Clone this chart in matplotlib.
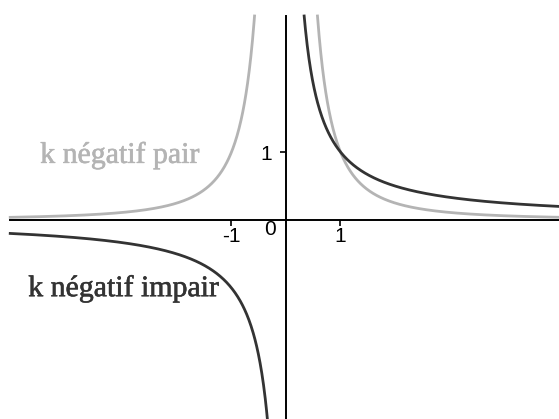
import numpy as np
import matplotlib.pyplot as plt
import matplotlib.patheffects as pe

# exposants négatifs tracés : x -> x**k
k_values = [-2, -1]
curve_labels = ["k négatif pair", "k négatif impair"]
curve_colors = ["#b4b4b4", "#333333"]

x_ticks = [-1, 1]
x_tick_labels = ["-1", "1"]
y_ticks = [1]
y_tick_labels = ["1"]

x_lo, x_hi = -5.06, 5.1
y_top = 3.0

fig = plt.figure(figsize=(5.59, 4.19), dpi=100)
ax = fig.add_axes([0, 0, 1, 1])
ax.set_xlim(-286 / 54.5, 273 / 54.5)
ax.set_ylim(-199 / 68, 220 / 68)

for k, color in zip(k_values, curve_colors):
    for side in (-1, 1):
        x_end = y_top ** (1 / k)
        if side < 0:
            x = np.linspace(x_lo, -x_end, 600)
        else:
            x = np.linspace(x_end, x_hi, 600)
        ax.plot(x, x ** k, color=color, lw=2.0, zorder=3)

# axes passant par l'origine
for s in ("top", "right"):
    ax.spines[s].set_visible(False)
ax.spines["bottom"].set_position(("data", 0))
ax.spines["left"].set_position(("data", 0))
ax.spines["bottom"].set_bounds(x_lo, x_hi)
ax.spines["left"].set_bounds(ax.get_ylim()[0], y_top)
ax.spines["bottom"].set_linewidth(1.4)
ax.spines["left"].set_linewidth(1.4)

tick_font = dict(family="Liberation Sans", size=15)
ax.set_xticks(x_ticks)
ax.set_xticklabels(x_tick_labels, fontdict=tick_font)
ax.set_yticks(y_ticks)
ax.set_yticklabels(y_tick_labels, fontdict=tick_font)
ax.tick_params(direction="out", length=4, width=1.2)
ax.tick_params(axis="x", pad=1)
ax.tick_params(axis="y", pad=6)
ax.text(-0.3, -0.14, "0", ha="center", va="center", **tick_font)

label_pos = [(-4.51, 0.84), (-4.73, -1.12)]
for (tx, ty), text, color in zip(label_pos, curve_labels, curve_colors):
    ax.text(tx, ty, text, color=color, family="Liberation Serif",
            size=21.5, va="baseline", ha="left",
            path_effects=[pe.withStroke(linewidth=0.4, foreground=color)])

fig.savefig("out.png", dpi=100)
